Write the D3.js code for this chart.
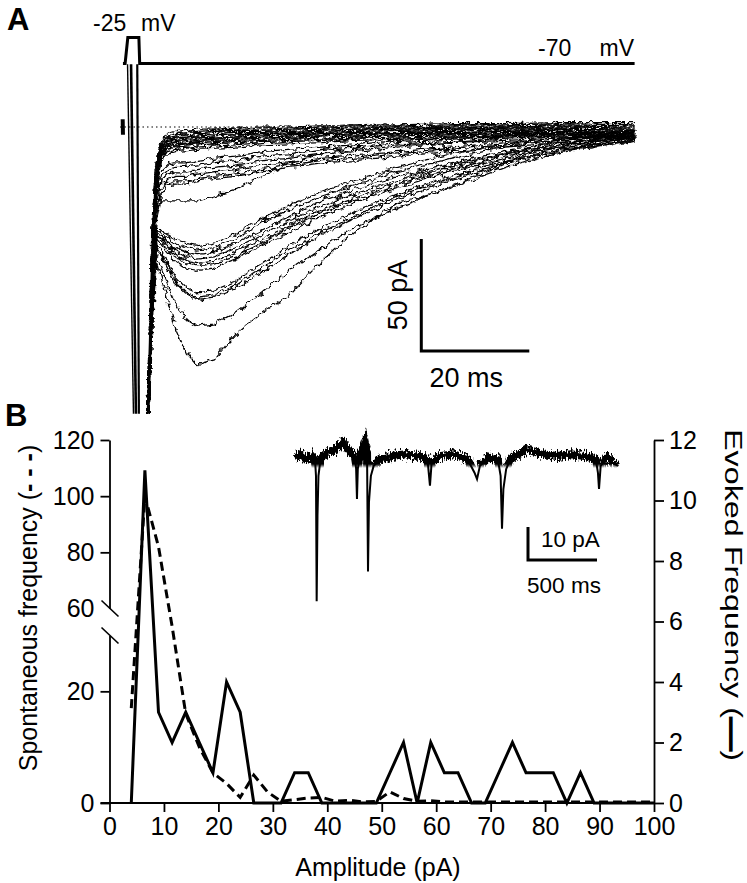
<!DOCTYPE html>
<html>
<head>
<meta charset="utf-8">
<script src="https://cdn.jsdelivr.net/npm/d3@7"></script>
<style>
  body { margin: 0; background: #fff; }
  svg { font-family: "Liberation Sans", Arial, sans-serif; }
</style>
</head>
<body>
<div id="fig"></div>
<script>
// ---------------- Panel A data ----------------
// voltage protocol (ms, mV)
const protoTimes = [-0.75, -0.35, 0.15, 2.2, 2.35, 94];
const protoVolts = [-70, -70, -25, -25, -70, -70];

// sweep sample times (ms after pulse onset)
const sweepTimes = [3.9, 4.3, 4.8, 5.4, 6.2, 7.5, 9, 11, 13, 16, 20, 25, 30, 36, 42, 50, 60, 70, 80, 94];

// fast-decaying sweeps (pA)
const sweepsFast = [
  [-128,-92,-44,-18,-7,-3,-2,-1.5,-1,-1,-0.5,0,0,0.5,0.5,1,1.5,1.5,2,2],
  [-128,-93,-45,-19,-8,-4,-3,-2.5,-2,-1.5,-1,-1,-0.5,0,0.5,0.5,1,1,1.5,1],
  [-128,-93,-46,-20,-8,-4.5,-3.5,-3,-2.5,-2,-1.5,-1.5,-1,-0.5,0,0,0.5,0.5,1,0.5],
  [-128,-94,-47,-20,-9,-5,-4,-3.5,-3,-2.5,-2,-2,-1.5,-1,-1,-0.5,0,0,0.5,0],
  [-128,-94,-48,-21,-9,-5.5,-4.5,-4,-3.5,-3,-2.5,-2.5,-2,-1.5,-1,-1,-0.5,-0.5,0,-0.5],
  [-128,-95,-48,-22,-10,-6,-5,-4.5,-4,-3.5,-3,-3,-2.5,-2,-1.5,-1,-1,-0.5,-0.5,-1],
  [-128,-95,-49,-22,-10,-6.5,-5.5,-5,-4.5,-4,-3.5,-3,-3,-2.5,-2,-1.5,-1,-1,-1,-1.5],
  [-128,-95,-50,-23,-11,-7,-6,-5.5,-5,-4.5,-4,-3.5,-3,-3,-2.5,-2,-1.5,-1.5,-1,-1.5],
  [-128,-96,-50,-23,-11,-7.5,-6.5,-6,-5.5,-5,-4.5,-4,-3.5,-3,-3,-2.5,-2,-2,-1.5,-2],
  [-128,-96,-51,-24,-12,-8,-7,-6.5,-6,-5.5,-5,-4.5,-4,-3.5,-3,-3,-2.5,-2,-2,-2.5],
  [-128,-96,-52,-24,-12,-8.5,-7.5,-7,-6.5,-6,-5.5,-5,-4.5,-4,-3.5,-3,-3,-2.5,-2,-3],
  [-128,-97,-52,-25,-13,-9,-8,-7.5,-7,-6.5,-6,-5.5,-5,-4.5,-4,-3.5,-3,-3,-2.5,-3.5],
  [-128,-97,-53,-26,-13,-9.5,-8.5,-8,-7.5,-7,-6.5,-6,-5.5,-5,-4.5,-4,-3.5,-3,-3,-4],
  [-128,-97,-54,-26,-14,-10,-9,-8.5,-8,-7.5,-7,-6.5,-6,-5.5,-5,-4.5,-4,-3.5,-3,-4.5],
  [-128,-98,-54,-27,-14,-11,-10,-9.5,-9,-8.5,-8,-7,-6.5,-6,-5.5,-5,-4.5,-4,-3.5,-5],
  [-128,-98,-55,-28,-15,-12,-11,-10.5,-10,-9.5,-9,-8,-7.5,-7,-6,-5.5,-5,-4.5,-4,-5.5]
];

// intermediate sweeps (pA)
const sweepsMid = [
  [-128,-95,-55,-30,-20,-17,-16,-16,-15,-14,-13,-11,-10,-9,-8,-6,-5,-4,-3,-2],
  [-128,-96,-57,-32,-22,-19,-18,-18,-17,-16,-15,-13,-12,-10,-9,-7,-6,-4,-3,-3],
  [-128,-96,-58,-34,-24,-21,-20,-20,-19,-18,-17,-15,-14,-12,-11,-9,-7,-5,-4,-3],
  [-128,-97,-60,-36,-26,-23,-22,-22,-21,-20,-19,-17,-16,-14,-13,-11,-9,-7,-5,-4],
  [-128,-97,-61,-38,-28,-25,-24,-24,-23,-22,-21,-19,-17,-15,-14,-12,-10,-8,-6,-4],
  [-128,-98,-62,-40,-30,-26,-25,-25,-24,-23,-22,-20,-18,-16,-15,-13,-11,-9,-7,-5],
  [-128,-98,-63,-42,-33,-33,-33,-33,-33,-31,-28,-22,-16,-12,-10,-8,-7,-6,-5,-4]
];

// large sweeps with a delayed peak (pA)
const sweepsLarge = [
  [-128,-100,-70,-45,-46,-48,-50,-52,-53,-52,-48,-41,-35,-29,-24,-18,-12,-8,-5,-3],
  [-128,-100,-70,-46,-47,-50,-52,-54,-55,-54,-50,-43,-37,-31,-26,-20,-14,-9,-6,-3],
  [-128,-100,-72,-47,-48,-51,-54,-56,-57,-56,-52,-46,-40,-33,-28,-22,-16,-11,-7,-4],
  [-128,-101,-72,-48,-49,-52,-55,-58,-59,-58,-54,-48,-42,-35,-30,-24,-17,-12,-8,-4],
  [-128,-101,-73,-48,-50,-53,-57,-60,-61,-60,-56,-50,-44,-37,-32,-25,-18,-12,-8,-5],
  [-128,-102,-74,-49,-51,-55,-58,-61,-62,-61,-58,-52,-45,-38,-33,-26,-19,-13,-9,-5],
  [-128,-102,-74,-50,-52,-56,-60,-63,-64,-63,-59,-53,-47,-40,-34,-27,-20,-14,-9,-5],
  [-128,-103,-76,-52,-55,-61,-67,-72,-74,-73,-69,-61,-53,-45,-38,-30,-22,-15,-10,-6],
  [-128,-103,-77,-53,-56,-62,-69,-74,-76,-75,-71,-63,-55,-47,-40,-31,-23,-16,-10,-6],
  [-128,-104,-78,-54,-57,-63,-70,-75,-77,-76,-72,-65,-57,-48,-41,-32,-24,-16,-11,-6],
  [-128,-105,-80,-58,-62,-70,-79,-86,-89,-88,-83,-74,-64,-54,-45,-36,-27,-18,-11,-6],
  [-128,-106,-82,-60,-66,-77,-90,-101,-106,-104,-93,-83,-75,-60,-47,-34,-27,-16,-6,-2]
];

// capacitive artefacts, [t0, i0, t1, i1] (ms, pA)
const artefacts = [
  [0.1, 28, 1.2, -128],
  [0.75, 28, 1.65, -128],
  [1.9, 28, 2.2, -128],
  [-0.8, 3.5, -0.75, -3.5]
];
const baselineSpan = [-1.3, 94];   // ms, dotted zero line

// ---------------- Panel B data ----------------
const binCentres = [4, 6.5, 9, 11.5, 14, 16.5, 19, 21.5, 24, 26.5, 29, 31.5, 34, 36.5, 39, 41.5, 44, 46.5, 49, 51.5,
                    54, 56.5, 59, 61.5, 64, 66.5, 69, 71.5, 74, 76.5, 79, 81.5, 84, 86.5, 89, 91.5, 94, 96.5, 99, 100];
const evokedCounts = [0, 11, 3, 2, 3, 2, 1, 4, 3, 0, 0, 0, 1, 1, 0, 0, 0, 0, 0, 1,
                      2, 0, 2, 1, 1, 0, 0, 1, 2, 1, 1, 1, 0, 1, 0, 0, 0, 0, 0, 0];
const spontCounts = [17, 100, 82, 40, 16, 10, 5.4, 3.5, 1, 5, 2, 0.3, 0.6, 0.9, 1, 0.3, 0.5, 0.2, 0.3, 2,
                     0.8, 0.3, 0.4, 0.2, 0.2, 0.2, 0.2, 0.2, 0.2, 0.2, 0.2, 0.2, 0.2, 0.2, 0.2, 0.2, 0.2, 0.2, 0.2, 0.2];
const xTicks = [0, 10, 20, 30, 40, 50, 60, 70, 80, 90, 100];
const leftTicksLow = [0, 20];
const leftTicksHigh = [60, 80, 100, 120];
const rightTicks = [0, 2, 4, 6, 8, 10, 12];

// inset: spontaneous trace (ms, pA)
const insetTimes = [0, 40, 80, 120, 145, 152, 157, 163, 170, 185, 230, 290, 348, 400, 435, 443, 449, 455, 470, 507,
                    522, 529, 536, 550, 570, 620, 700, 800, 900, 960, 978, 990, 1050, 1150, 1250, 1300, 1319, 1340, 1400, 1470,
                    1490, 1500, 1510, 1530, 1560, 1681, 1800, 1900, 2000, 2100, 2180, 2195, 2203, 2215, 2260, 2300, 2341];
const insetCurrent = [-0.5, 0.5, -1, 0, -1, -6, -44, -18, -6, -1, 1, 2, 4, 1, 0, -4, -13, -4, 0, 4,
                      1, -35, -14, -6, -3, -1, 0, 0.5, 0, -1, -9, -2, 0, 0.5, -1, -5, -7, -3, -0.5, -1,
                      -6, -22, -10, -4, -1, 2, 0.5, 0, 0.5, 0, -1, -5, -10, -3, -0.5, -2, -3];

// ---------------- drawing ----------------
const W = 747, H = 883;
const svg = d3.select('#fig').append('svg').attr('width', W).attr('height', H);
const defs = svg.append('defs');

// noise-like texture for the recorded traces (rendering style only)
function jitterFilter(id, region, freq, scale, seed, yOnly) {
  const f = defs.append('filter').attr('id', id)
    .attr('filterUnits', 'userSpaceOnUse')
    .attr('x', region[0]).attr('y', region[1]).attr('width', region[2]).attr('height', region[3])
    .attr('color-interpolation-filters', 'sRGB');
  f.append('feTurbulence').attr('type', 'fractalNoise').attr('baseFrequency', freq)
    .attr('numOctaves', 2).attr('seed', seed).attr('result', 'n');
  let map = 'n';
  if (yOnly) {
    f.append('feColorMatrix').attr('in', 'n').attr('type', 'matrix')
      .attr('values', '0 0 0 0 0.5  0 1 0 0 0  0 0 0 0 0  0 0 0 0 1').attr('result', 'm');
    map = 'm';
  }
  f.append('feDisplacementMap').attr('in', 'SourceGraphic').attr('in2', map)
    .attr('scale', scale).attr('xChannelSelector', 'R').attr('yChannelSelector', 'G');
}
[1, 2, 3, 4].forEach(s => jitterFilter('jit' + s, [100, 40, 580, 400], 0.17, 7, s * 7, false));
jitterFilter('jitBand', [280, 410, 360, 220], '0.8 0.25', 13, 5, true);

defs.append('clipPath').attr('id', 'clipA')
  .append('rect').attr('x', 90).attr('y', 55).attr('width', 560).attr('height', 359);

// soft lower edge for the noise band of the inset
const grad = defs.append('linearGradient').attr('id', 'bandFade')
  .attr('gradientUnits', 'userSpaceOnUse').attr('x1', 0).attr('x2', 0).attr('y1', 464).attr('y2', 468);
grad.append('stop').attr('offset', 0).attr('stop-color', '#fff');
grad.append('stop').attr('offset', 1).attr('stop-color', '#000');
defs.append('mask').attr('id', 'bandMask').attr('maskUnits', 'userSpaceOnUse')
  .attr('x', 280).attr('y', 410).attr('width', 360).attr('height', 220)
  .append('rect').attr('x', 280).attr('y', 410).attr('width', 360).attr('height', 220)
  .attr('fill', 'url(#bandFade)');

// panel letters
svg.append('text').attr('x', 7).attr('y', 30).attr('font-size', 31).attr('font-weight', 'bold').text('A');
svg.append('text').attr('x', 5).attr('y', 426).attr('font-size', 31).attr('font-weight', 'bold').text('B');

// ---- Panel A
const xA = d3.scaleLinear().domain([0, 20]).range([127, 235]);
const yA = d3.scaleLinear().domain([0, -50]).range([127, 239]);
const yV = d3.scaleLinear().domain([-70, -25]).range([63.5, 37.5]);

svg.append('path')
  .datum(protoTimes.map((t, i) => [t, protoVolts[i]]))
  .attr('d', d3.line().x(d => xA(d[0])).y(d => yV(d[1])))
  .attr('fill', 'none').attr('stroke', '#000').attr('stroke-width', 3);

svg.append('text').attr('x', 93).attr('y', 31).attr('font-size', 23).text('-25');
svg.append('text').attr('x', 141).attr('y', 31).attr('font-size', 23).text('mV');
svg.append('text').attr('x', 538).attr('y', 56).attr('font-size', 23).text('-70');
svg.append('text').attr('x', 634).attr('y', 56).attr('font-size', 23).attr('text-anchor', 'end').text('mV');

const gA = svg.append('g').attr('clip-path', 'url(#clipA)');

gA.append('line')
  .attr('x1', xA(baselineSpan[0])).attr('x2', xA(baselineSpan[1]))
  .attr('y1', yA(0)).attr('y2', yA(0))
  .attr('stroke', '#000').attr('stroke-width', 1.2).attr('stroke-dasharray', '1.5 3');

const sweepLine = d3.line().x((d, i) => xA(sweepTimes[i])).y(d => yA(d));
const allSweeps = sweepsFast.concat(sweepsMid, sweepsLarge);
allSweeps.forEach((s, k) => {
  gA.append('path').datum(s)
    .attr('d', sweepLine)
    .attr('fill', 'none').attr('stroke', '#000').attr('stroke-width', 1.25)
    .attr('filter', 'url(#jit' + (k % 4 + 1) + ')');
});
// common fast rising phase
gA.append('path').datum(sweepsFast[8].slice(0, 5))
  .attr('d', sweepLine)
  .attr('fill', 'none').attr('stroke', '#000').attr('stroke-width', 2.8);

gA.selectAll('line.art').data(artefacts).join('line').attr('class', 'art')
  .attr('x1', d => xA(d[0])).attr('y1', d => yA(d[1]))
  .attr('x2', d => xA(d[2])).attr('y2', d => yA(d[3]))
  .attr('stroke', '#000').attr('stroke-width', (d, i) => [1.4, 2.6, 2.2, 4][i]);

// scale bars A
svg.append('path').attr('d', d3.line()([[xA(54.5), yA(-50)], [xA(54.5), yA(-100)], [xA(74.5), yA(-100)]]))
  .attr('fill', 'none').attr('stroke', '#000').attr('stroke-width', 3);
svg.append('text').attr('transform', `translate(${xA(54.5) - 14},${(yA(-50) + yA(-100)) / 2}) rotate(-90)`)
  .attr('text-anchor', 'middle').attr('font-size', 27).text('50 pA');
svg.append('text').attr('x', (xA(54.5) + xA(74.5)) / 2 - 9).attr('y', yA(-100) + 36)
  .attr('text-anchor', 'middle').attr('font-size', 27).text('20 ms');

// ---- Panel B
const xB = d3.scaleLinear().domain([0, 100]).range([109.5, 654]);
const yLow = d3.scaleLinear().domain([0, 30]).range([803, 635.5]);
const yHigh = d3.scaleLinear().domain([60, 120]).range([608.5, 440]);
const ySp = d3.scaleLinear().domain([0, 30, 60, 120]).range([803, 635.5, 608.5, 440]);
const yEv = d3.scaleLinear().domain([0, 12]).range([803, 440]);

const fontB = 25;
function styleAxis(g) {
  g.attr('font-size', fontB).attr('font-family', '"Liberation Sans", Arial, sans-serif');
  g.selectAll('path, line').attr('stroke-width', 1.8);
}

svg.append('g').attr('transform', 'translate(0,803)')
  .call(d3.axisBottom(xB).tickValues(xTicks).tickSize(9).tickPadding(5).tickSizeOuter(0))
  .call(styleAxis)
  .call(g => g.select('.domain').attr('d', `M${xB(0) - 9},0H${xB(100)}`));

svg.append('g').attr('transform', `translate(${xB(0)},0)`)
  .call(d3.axisLeft(yLow).tickValues(leftTicksLow).tickSize(9).tickPadding(6).tickSizeOuter(0))
  .call(styleAxis);
svg.append('g').attr('transform', `translate(${xB(0)},0)`)
  .call(d3.axisLeft(yHigh).tickValues(leftTicksHigh).tickSize(9).tickPadding(6).tickSizeOuter(0))
  .call(styleAxis)
  .call(g => g.selectAll('.tick').filter(d => d === 60).select('line').remove());

// axis break marks
[ySp(60), ySp(30)].forEach(yb => {
  svg.append('line').attr('x1', xB(0) - 8).attr('y1', yb - 8).attr('x2', xB(0) + 9).attr('y2', yb + 8)
    .attr('stroke', '#000').attr('stroke-width', 1.6);
});

svg.append('g').attr('transform', `translate(${xB(100)},0)`)
  .call(d3.axisRight(yEv).tickValues(rightTicks).tickSize(10).tickPadding(5).tickSizeOuter(0))
  .call(styleAxis);

// histograms
svg.append('path').datum(binCentres.map((b, i) => [b, spontCounts[i]]))
  .attr('d', d3.line().x(d => xB(d[0])).y(d => ySp(d[1])))
  .attr('fill', 'none').attr('stroke', '#000').attr('stroke-width', 3).attr('stroke-dasharray', '9 5');
svg.append('path').datum(binCentres.map((b, i) => [b, evokedCounts[i]]))
  .attr('d', d3.line().x(d => xB(d[0])).y(d => yEv(d[1])))
  .attr('fill', 'none').attr('stroke', '#000').attr('stroke-width', 3).attr('stroke-linejoin', 'miter');

// axis titles
svg.append('text').attr('x', 378).attr('y', 876).attr('text-anchor', 'middle').attr('font-size', fontB)
  .text('Amplitude (pA)');
const spT = svg.append('text').attr('transform', 'translate(37,608) rotate(-90)').attr('text-anchor', 'middle')
  .attr('font-size', fontB).style('white-space', 'pre');
spT.append('tspan').text('Spontaneous frequency (');
spT.append('tspan').attr('font-weight', 'bold').text('- - -');
spT.append('tspan').text(')');
const evT = svg.append('text').attr('transform', 'translate(725,595) rotate(90)').attr('text-anchor', 'middle')
  .attr('font-size', 23).attr('textLength', 332).attr('lengthAdjust', 'spacingAndGlyphs');
evT.append('tspan').text('Evoked Frequency (');
evT.append('tspan').attr('stroke', '#000').attr('stroke-width', 2).text('\u2014');
evT.append('tspan').text(')');

// inset trace
const xIn = d3.scaleLinear().domain([0, 500]).range([295, 364]);
const yIn = d3.scaleLinear().domain([0, -10]).range([456, 489]);
const insetLine = d3.line().x((d, i) => xIn(insetTimes[i])).y(d => yIn(d));
svg.append('g').attr('mask', 'url(#bandMask)')
  .append('path').datum(insetCurrent).attr('d', insetLine)
  .attr('fill', 'none').attr('stroke', '#000').attr('stroke-width', 8)
  .attr('filter', 'url(#jitBand)');
svg.append('path').datum(insetCurrent).attr('d', insetLine)
  .attr('fill', 'none').attr('stroke', '#000').attr('stroke-width', 2);

// inset scale bars
const sbX = 528, sbY = 560;
svg.append('path')
  .attr('d', d3.line()([[sbX, sbY - (yIn(-10) - yIn(0))], [sbX, sbY], [sbX + (xIn(500) - xIn(0)), sbY]]))
  .attr('fill', 'none').attr('stroke', '#000').attr('stroke-width', 3);
svg.append('text').attr('x', sbX + 13).attr('y', sbY - 13).attr('font-size', 22.5).text('10 pA');
svg.append('text').attr('x', sbX + 36).attr('y', sbY + 33).attr('text-anchor', 'middle').attr('font-size', 22.5)
  .text('500 ms');
</script>
</body>
</html>
